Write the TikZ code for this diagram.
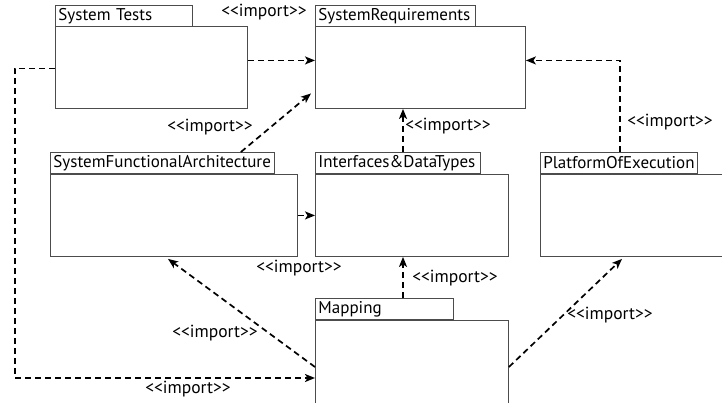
\documentclass[tikz,border=0pt]{standalone}
\usepackage{fontspec}
\setmainfont{PT Sans}
\usetikzlibrary{arrows.meta}

\newcommand{\imp}{<{}<import>{}>}

\tikzset{
  pkgbody/.style={draw=black!70, line width=0.9pt, fill=white, anchor=north west,
    inner sep=0pt},
  pkgtab/.style={draw=black!70, line width=0.9pt, fill=white, anchor=north west,
    inner xsep=3pt, inner ysep=0pt, align=left, font=\fontsize{17}{18}\selectfont,
    minimum height=21pt},
  dep/.style={dash pattern=on 6pt off 4pt, line width=1.7pt,
    -{Stealth[length=10pt,width=8pt,inset=2.5pt]}},
  lbl/.style={font=\fontsize{17.5}{18}\selectfont, inner sep=0pt}
}

\begin{document}
\begin{tikzpicture}[x=1pt,y=-1pt]
\useasboundingbox (0,0) rectangle (722,403);

% packages: tab + body
\node[pkgtab, text width=131pt] (stT) at (55,5) {System Tests};
\node[pkgbody, minimum width=192pt, minimum height=82pt] (stB) at (55,26) {};

\node[pkgtab, text width=154pt] (srT) at (315,5) {SystemRequirements};
\node[pkgbody, minimum width=210pt, minimum height=82pt] (srB) at (315,26) {};

\node[pkgtab, text width=218pt] (sfaT) at (50,152) {SystemFunctionalArchitecture};
\node[pkgbody, minimum width=247pt, minimum height=82pt] (sfaB) at (50,174) {};

\node[pkgtab, text width=159pt] (idT) at (315,152) {Interfaces\&DataTypes};
\node[pkgbody, minimum width=193pt, minimum height=82pt] (idB) at (315,174) {};

\node[pkgtab, text width=151pt] (pfT) at (540,152) {PlatformOfExecution};
\node[pkgbody, minimum width=190pt, minimum height=82pt] (pfB) at (540,174) {};

\node[pkgtab, text width=132pt] (mapT) at (315,298) {Mapping};
\node[pkgbody, minimum width=193pt, minimum height=90pt] (mapB) at (315,320) {};

\coordinate (lc) at (15,378);

% import dependencies
\draw[dep] ([yshift=7pt]stB.east) -- ([yshift=7pt]srB.west);
\draw[dep] ([xshift=-34pt]sfaT.north east) -- ([xshift=-4pt,yshift=-26pt]srB.west);
\draw[dep] ([xshift=88pt]idT.north west) -- ([xshift=88pt]idT.north west |- srB.south);
\draw[dep] ([xshift=80pt]pfT.north west) |- ([yshift=7pt]srB.east);
\draw[dep] (sfaB.east) -- (idB.west);
\draw[dep] ([xshift=88pt]mapT.north west) -- ([xshift=88pt]mapT.north west |- idB.south);
\draw[dep] ([yshift=-47pt]mapB.north west) -- ([xshift=118pt,yshift=-2pt]sfaB.south west);
\draw[dep] ([yshift=-47pt]mapB.north east) -- ([xshift=82pt,yshift=-2pt]pfB.south west);
\draw[dep] ([yshift=-1pt]stB.west) -| (lc) -- ([yshift=-58pt]mapB.north west);

% stereotype labels
\node[lbl] (l1) at (264,12) {\imp};
\node[lbl] (l2) at (210,127) {\imp};
\node[lbl] (l3) at (448,126) {\imp};
\node[lbl] (l4) at (670,122) {\imp};
\node[lbl] (l5) at (299,268) {\imp};
\node[lbl] (l6) at (455,278) {\imp};
\node[lbl] (l7) at (215,333) {\imp};
\node[lbl] (l8) at (610,315) {\imp};
\node[lbl] (l9) at (188,389) {\imp};
\end{tikzpicture}
\end{document}
